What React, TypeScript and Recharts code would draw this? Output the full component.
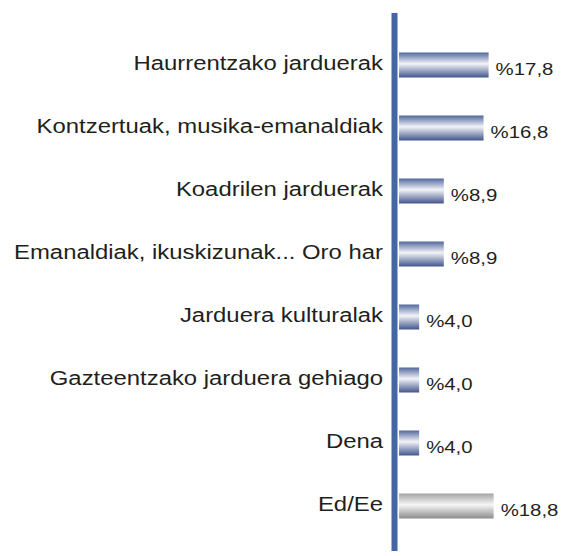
import { BarChart, Bar, XAxis, YAxis, Cell, LabelList } from "recharts";

const categories = [
  "Haurrentzako jarduerak",
  "Kontzertuak, musika-emanaldiak",
  "Koadrilen jarduerak",
  "Emanaldiak, ikuskizunak... Oro har",
  "Jarduera kulturalak",
  "Gazteentzako jarduera gehiago",
  "Dena",
  "Ed/Ee",
];
const values = [17.8, 16.8, 8.9, 8.9, 4.0, 4.0, 4.0, 18.8];

const data = categories.map((name, i) => ({ name, value: values[i] }));

const FONT = '"Liberation Sans", Arial, sans-serif';
const TEXT = "#231f20";

const CategoryTick = (props: any) => {
  const { x, y, payload } = props;
  return (
    <g transform={`translate(${x},${y - 2})`}>
      <text
        transform="scale(1.225,1)"
        textAnchor="end"
        dy="0.35em"
        fontSize={19.5}
        fontFamily={FONT}
        fill={TEXT}
      >
        {payload.value}
      </text>
    </g>
  );
};

const ValueLabel = (props: any) => {
  const { x, y, width, height, value } = props;
  return (
    <g transform={`translate(${x + width + 7},${y + height / 2 + 4})`}>
      <text
        transform="scale(1.2,1)"
        dy="0.35em"
        fontSize={17}
        fontFamily={FONT}
        fill={TEXT}
      >
        {"%" + Number(value).toFixed(1).replace(".", ",")}
      </text>
    </g>
  );
};

export default function App() {
  return (
    <div style={{ position: "absolute", left: 0, top: 0 }}>
      <BarChart
        width={561}
        height={556}
        data={data}
        layout="vertical"
        margin={{ top: 13, right: 11, bottom: 5, left: 0 }}
      >
        <defs>
          <linearGradient id="blueBar" x1="0" y1="0" x2="0" y2="1">
            <stop offset="0%" stopColor="#52679d" />
            <stop offset="45%" stopColor="#f3f4f8" />
            <stop offset="100%" stopColor="#42558c" />
          </linearGradient>
          <linearGradient id="greyBar" x1="0" y1="0" x2="0" y2="1">
            <stop offset="0%" stopColor="#a3a3a3" />
            <stop offset="45%" stopColor="#f6f6f6" />
            <stop offset="100%" stopColor="#8c8c8c" />
          </linearGradient>
        </defs>
        <XAxis type="number" hide domain={[-0.9, 30]} />
        <YAxis
          type="category"
          dataKey="name"
          width={394.5}
          padding={{ top: 20.5, bottom: 13.5 }}
          axisLine={{ stroke: "#4566a4", strokeWidth: 6 }}
          tickLine={false}
          tickSize={0}
          tickMargin={11.5}
          tick={<CategoryTick />}
          interval={0}
        />
        <Bar dataKey="value" barSize={25} isAnimationActive={false}>
          {data.map((_d, i) => (
            <Cell
              key={i}
              fill={i === data.length - 1 ? "url(#greyBar)" : "url(#blueBar)"}
            />
          ))}
          <LabelList dataKey="value" content={<ValueLabel />} />
        </Bar>
      </BarChart>
    </div>
  );
}
